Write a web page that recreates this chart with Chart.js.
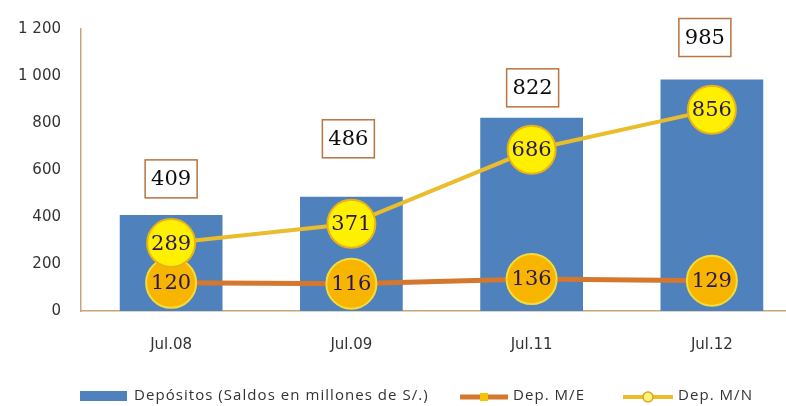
<!DOCTYPE html>
<html>
<head>
<meta charset="utf-8">
<script src="https://cdn.jsdelivr.net/npm/chart.js@4.4.1/dist/chart.umd.min.js"></script>
<style>
  html, body { margin: 0; padding: 0; background: #ffffff; overflow: hidden; width: 786px; height: 406px; }
  #outer { position: relative; width: 786px; height: 406px; overflow: hidden; }
  #wrap { position: absolute; left: 0; top: 0; width: 830px; height: 406px; }
</style>
</head>
<body>
<div id="outer"><div id="wrap"><canvas id="c"></canvas></div></div>
<script>
// ---- data ----
const categories = ['Jul.08', 'Jul.09', 'Jul.11', 'Jul.12'];
const depositos = [409, 486, 822, 985];
const depME = [120, 116, 136, 129];
const depMN = [289, 371, 686, 856];
const yMin = 0, yMax = 1200, yStep = 200;

// label box placement relative to bar top (px), as placed in the original
const boxLift = [36, 58, 30, 42];
const boxShift = [0, -3, 1, -7];
const PLOT_RIGHT = 802;
const PLOT_TOP = 21;

const SANS = '"Open Sans", "DejaVu Sans", sans-serif';
const AXSANS = '"DejaVu Sans", sans-serif';
const SERIF = '"DejaVu Serif", "Liberation Serif", serif';
const AXIS_COLOR = '#c9a47a';

const fmt = v => String(v).replace(/\B(?=(\d{3})+(?!\d))/g, ' ');

const labelsPlugin = {
  id: 'labels',
  afterDatasetsDraw(chart) {
    const ctx = chart.ctx;
    ctx.save();
    const barMeta = chart.getDatasetMeta(0);
    barMeta.data.forEach((el, i) => {
      const txt = String(depositos[i]);
      ctx.font = '21px ' + SERIF;
      const w = 52, h = 38;
      const cx = el.x + boxShift[i], cy = el.y - boxLift[i];
      ctx.fillStyle = '#ffffff';
      ctx.fillRect(cx - w / 2, cy - h / 2, w, h);
      ctx.strokeStyle = '#b9743f';
      ctx.lineWidth = 1.5;
      ctx.strokeRect(cx - w / 2, cy - h / 2, w, h);
      ctx.fillStyle = '#0d0d0d';
      ctx.textAlign = 'center';
      ctx.textBaseline = 'middle';
      ctx.fillText(txt, cx, cy + 1);
    });
    [[1, depME], [2, depMN]].forEach(([di, arr]) => {
      const meta = chart.getDatasetMeta(di);
      meta.data.forEach((pt, i) => {
        ctx.font = '21px ' + SERIF;
        ctx.fillStyle = '#28185a';
        ctx.textAlign = 'center';
        ctx.textBaseline = 'middle';
        ctx.fillText(String(arr[i]), pt.x, pt.y + 1);
      });
    });
    ctx.restore();
  }
};

const legendPlugin = {
  id: 'customLegend',
  afterDraw(chart) {
    const ctx = chart.ctx;
    const ds = chart.data.datasets;
    const y = 396;
    ctx.save();
    ctx.letterSpacing = '1.05px';
    ctx.font = '15px ' + SANS;
    ctx.textAlign = 'left';
    ctx.textBaseline = 'middle';
    ctx.fillStyle = ds[0].backgroundColor;
    ctx.fillRect(80, y - 5, 47, 10);
    ctx.fillStyle = '#333333';
    ctx.fillText(ds[0].label, 134, y);
    ctx.strokeStyle = ds[1].borderColor;
    ctx.lineWidth = 5;
    ctx.beginPath(); ctx.moveTo(460, y + 1); ctx.lineTo(508, y + 1); ctx.stroke();
    ctx.fillStyle = '#f5c400';
    ctx.fillRect(480, y - 3, 8, 8);
    ctx.fillStyle = '#333333';
    ctx.fillText(ds[1].label, 513, y);
    ctx.strokeStyle = ds[2].borderColor;
    ctx.lineWidth = 4;
    ctx.beginPath(); ctx.moveTo(623, y + 1); ctx.lineTo(673, y + 1); ctx.stroke();
    ctx.beginPath(); ctx.arc(648, y + 1, 5, 0, Math.PI * 2);
    ctx.fillStyle = '#fff27a'; ctx.fill();
    ctx.lineWidth = 1.5; ctx.strokeStyle = '#d9a520'; ctx.stroke();
    ctx.fillStyle = '#333333';
    ctx.fillText(ds[2].label, 678, y);
    ctx.restore();
  }
};

const chart = new Chart(document.getElementById('c'), {
  data: {
    labels: categories,
    datasets: [
      {
        type: 'bar',
        label: 'Depósitos (Saldos en millones de S/.)',
        data: depositos,
        backgroundColor: '#4f81bd',
        borderWidth: 0,
        barPercentage: 0.57,
        categoryPercentage: 1.0,
        order: 3
      },
      {
        type: 'line',
        label: 'Dep. M/E',
        data: depME,
        borderColor: '#d4772f',
        borderWidth: 5,
        pointRadius: 25,
        pointBackgroundColor: '#f7b500',
        pointBorderColor: '#f3dc3c',
        pointBorderWidth: 2,
        tension: 0,
        order: 2
      },
      {
        type: 'line',
        label: 'Dep. M/N',
        data: depMN,
        borderColor: '#e9bd2c',
        borderWidth: 4,
        pointRadius: 24,
        pointBackgroundColor: '#fff000',
        pointBorderColor: '#e8b21a',
        pointBorderWidth: 2,
        tension: 0,
        order: 1
      }
    ]
  },
  options: {
    responsive: true,
    maintainAspectRatio: false,
    animation: false,
    layout: { padding: { top: 14, right: 28, bottom: 0, left: 0 } },
    plugins: {
      legend: { display: false },
      tooltip: { enabled: false }
    },
    scales: {
      x: {
        type: 'category',
        offset: true,
        grid: { display: false, drawTicks: false },
        border: { display: true, color: AXIS_COLOR, width: 1.5 },
        ticks: { color: '#333333', font: { family: AXSANS, size: 15 }, padding: 25, maxRotation: 0 },
        afterFit(s) { s.height = 95; }
      },
      y: {
        min: yMin, max: yMax,
        grid: { display: false, drawTicks: false },
        border: { display: true, color: AXIS_COLOR, width: 1.5 },
        ticks: {
          stepSize: yStep,
          color: '#333333',
          font: { family: AXSANS, size: 15 },
          padding: 20,
          callback: v => fmt(v)
        },
        afterFit(s) { s.width = 81; }
      }
    }
  },
  plugins: [labelsPlugin, legendPlugin]
});

// fine-tune layout so the plot area sits where the original's does
for (let k = 0; k < 4; k++) {
  const dr = chart.chartArea.right - PLOT_RIGHT;
  const dt = chart.chartArea.top - PLOT_TOP;
  if (Math.abs(dr) < 0.5 && Math.abs(dt) < 0.5) break;
  const p = chart.options.layout.padding;
  p.right = Math.max(0, p.right + dr);
  p.top = Math.max(0, p.top - dt);
  chart.update();
}
</script>
</body>
</html>
